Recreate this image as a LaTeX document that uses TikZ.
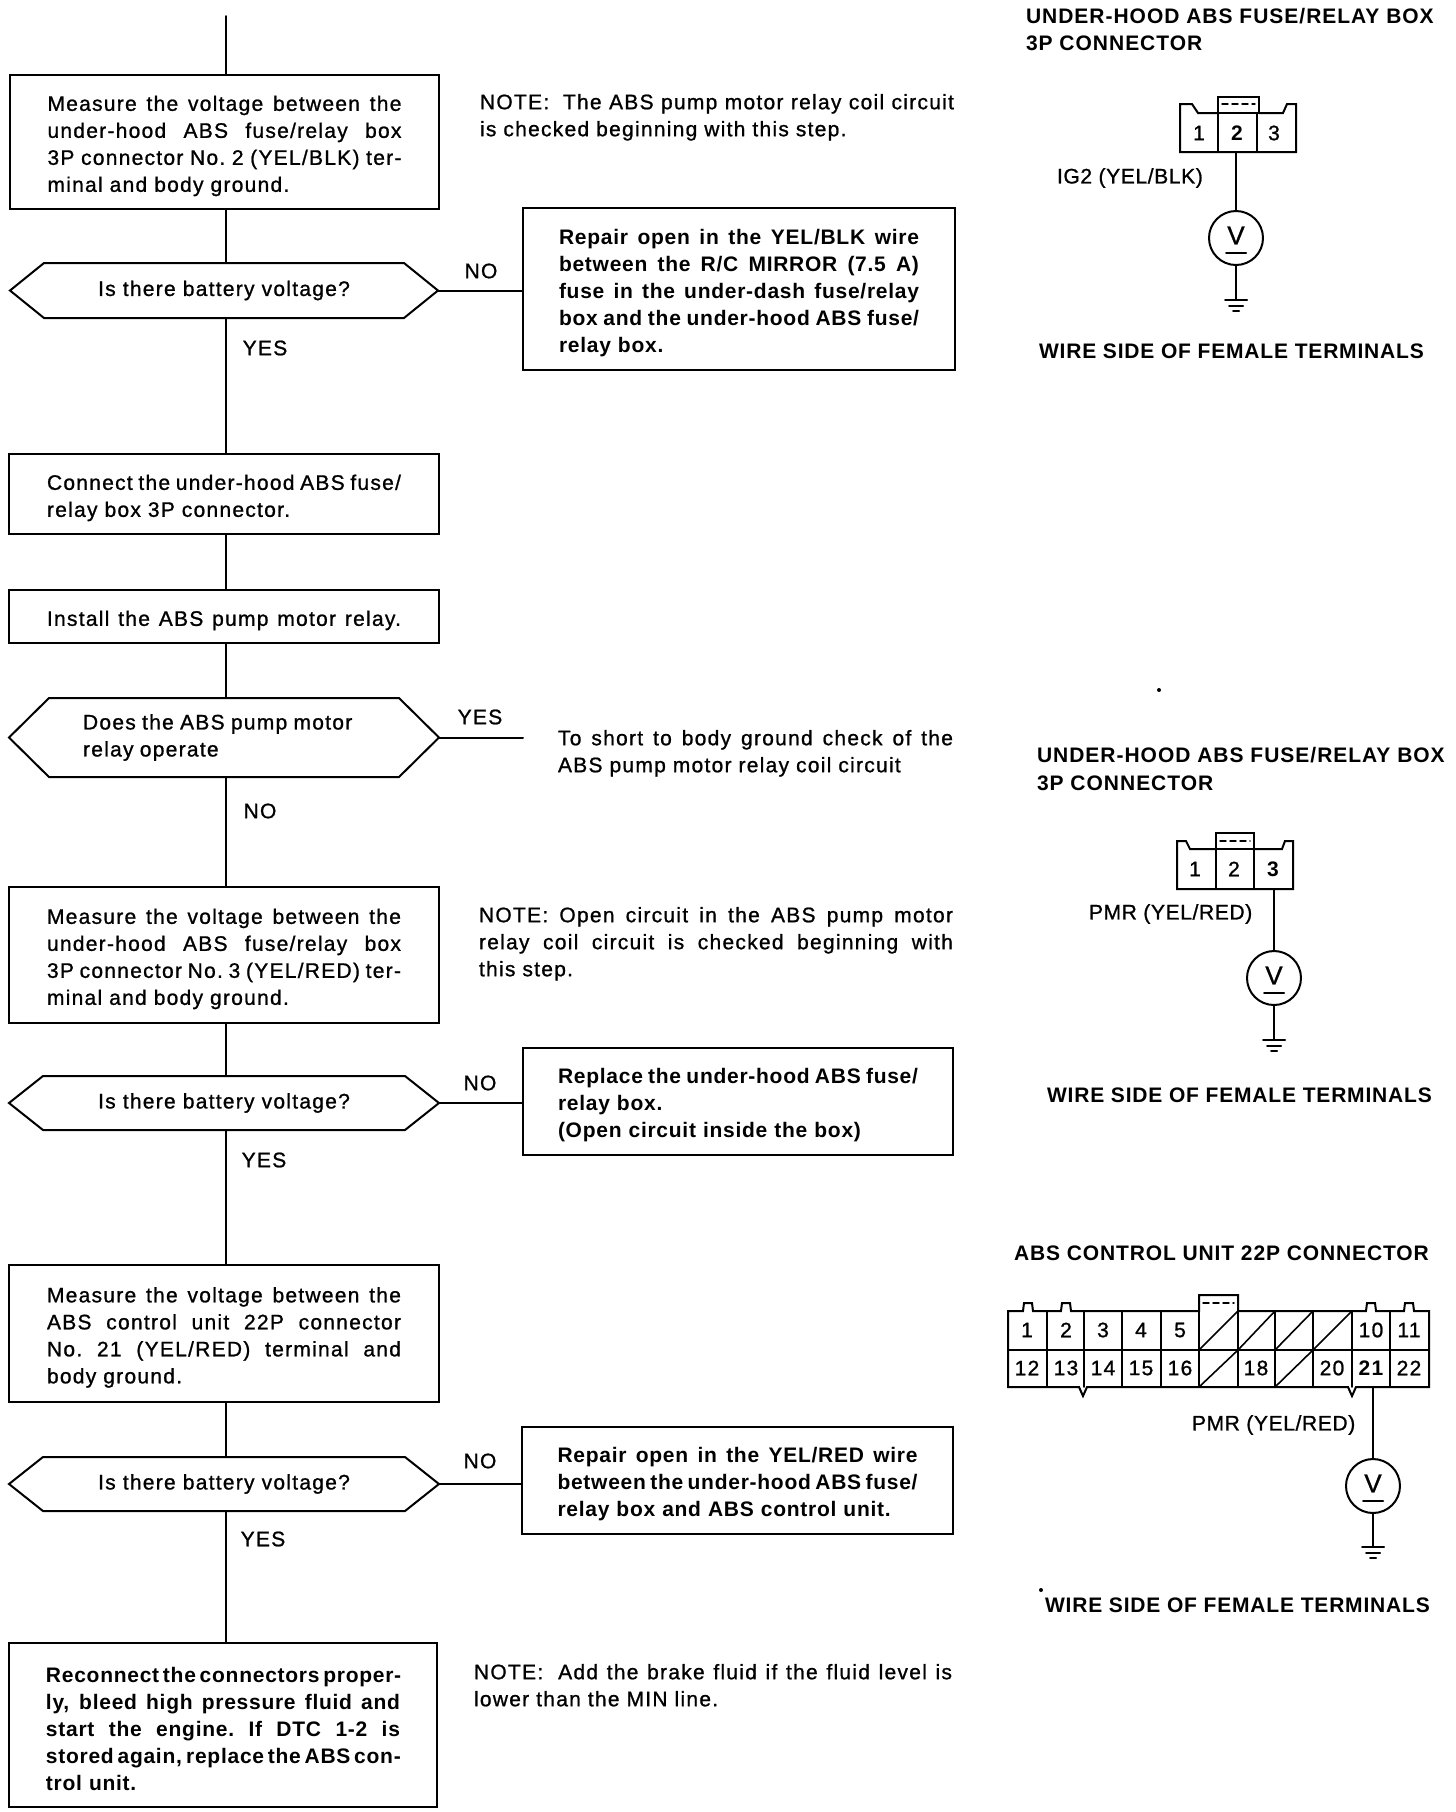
\documentclass[tikz,border=0pt]{standalone}
\usepackage{fontspec}
\setmainfont{Liberation Sans}[LetterSpace=6,UprightFeatures={FakeBold=1}]
\usetikzlibrary{calc}
\newcommand{\J}[1]{\makebox[\hsize][s]{\spaceskip=.28em plus 1fil minus .1em\xspaceskip=\spaceskip #1}}
\newcommand{\bodybold}{\fontsize{10.5}{13.5}\selectfont\bfseries\addfontfeature{LetterSpace=3.5}}
\tikzset{
  x=0.5pt,y=-0.5pt,
  wire/.style={line width=1pt,line cap=round},
  txt/.style={font=\fontsize{10.5}{13.5}\selectfont,inner sep=0pt,outer sep=0pt},
  pbox/.style 2 args={txt,draw,line width=1pt,anchor=north west,align=left,minimum width=#1*0.5pt,minimum height=#2*0.5pt,execute at begin node={\leavevmode\rule{0pt}{11.5pt}}},
  lbox/.style={text width=177pt},
  rbox/.style={text width=180pt,font=\bodybold},
  hexlabel/.style 2 args={txt,anchor=north west,align=left,minimum width=#1*0.5pt,minimum height=#2*0.5pt},
  yesno/.style={txt,anchor=center},
  note/.style={txt,anchor=north west,align=left},
  title/.style={txt,anchor=west,font=\fontsize{10.5}{13.5}\selectfont\bfseries\addfontfeature{LetterSpace=4.7}},
  sidetitle/.style={title,font=\fontsize{10.5}{13.5}\selectfont\bfseries\addfontfeature{LetterSpace=3.9}},
  wirelabel/.style={txt,anchor=west,font=\fontsize{10.5}{13.5}\selectfont\addfontfeature{LetterSpace=3}},
  pin/.style={txt,anchor=center,font=\fontsize{10.5}{13.5}\selectfont},
  boldpin/.style={txt,anchor=center,font=\fontsize{10.5}{13.5}\selectfont\bfseries},
  meter/.style={draw,circle,line width=1pt,minimum size=27pt,inner sep=0pt,font=\fontsize{13}{13}\selectfont},
}
\newcommand{\hexn}[7]{% name x y w h tip text
  \node[hexlabel={#4}{#5}] (#1) at (#2,#3) {#7};
  \draw[wire,line join=miter] (#1.west) -- ($(#1.north west)+(#6,0)$) -- ($(#1.north east)+(-#6,0)$) -- (#1.east) -- ($(#1.south east)+(-#6,0)$) -- ($(#1.south west)+(#6,0)$) -- cycle;
}
\newcommand{\gnd}[1]{%
  \draw[wire] ($(#1)+(-11,0)$) -- ($(#1)+(11,0)$);
  \draw[wire] ($(#1)+(-7,5.5)$) -- ($(#1)+(7,5.5)$);
  \draw[wire] ($(#1)+(-3,11)$) -- ($(#1)+(3,11)$);
}
\newcommand{\vmeter}[3]{%
  \node[meter] (#1) at (#2,#3) {\raisebox{2.5pt}{\addfontfeature{LetterSpace=0}V}};
  \draw[wire] ($(#1.center)+(-10,15)$) -- ($(#1.center)+(10,15)$);
}
\newcommand{\Q}{\raisebox{-2.5pt}{Is there battery voltage?}}
\begin{document}
\begin{tikzpicture}
\useasboundingbox (0,0) rectangle (1456,1812);
\coordinate (top) at (226,16);
% left column
\node[pbox={429}{134},lbox] (b1) at (10,75) {\J{Measure the voltage between the}\\\J{under-hood ABS fuse/relay box}\\\J{3P connector No. 2 (YEL/BLK) ter-}\\minal and body ground.};
\hexn{h1}{10}{263}{428}{55}{34}{\hfill\Q\hfill\null}
\node[pbox={432}{162},rbox] (r1) at (523,208) {\J{Repair open in the YEL/BLK wire}\\\J{between the R/C MIRROR (7.5 A)}\\\J{fuse in the under-dash fuse/relay}\\\J{box and the under-hood ABS fuse/}\\relay box.};
\node[pbox={430}{80},lbox] (b2) at (9,454) {\J{Connect the under-hood ABS fuse/}\\relay box 3P connector.};
\node[pbox={430}{53},lbox] (b3) at (9,590) {\J{Install the ABS pump motor relay.}};
\hexn{h2}{9}{698}{430}{79}{40}{\hspace*{9pt}\raisebox{-3pt}{\begin{minipage}{150pt}\spaceskip=.3em\relax Does the ABS pump motor\\relay operate\end{minipage}}\hfill\null}
\node[pbox={430}{136},lbox] (b4) at (9,887) {\J{Measure the voltage between the}\\\J{under-hood ABS fuse/relay box}\\\J{3P connector No. 3 (YEL/RED) ter-}\\minal and body ground.};
\hexn{h3}{9}{1076}{430}{54}{34}{\hfill\Q\hfill\null}
\node[pbox={430}{107},rbox] (r2) at (523,1048) {\J{Replace the under-hood ABS fuse/}\\relay box.\\(Open circuit inside the box)};
\node[pbox={430}{137},lbox] (b5) at (9,1265) {\J{Measure the voltage between the}\\\J{ABS control unit 22P connector}\\\J{No. 21 (YEL/RED) terminal and}\\body ground.};
\hexn{h4}{9}{1457}{430}{54}{34}{\hfill\Q\hfill\null}
\node[pbox={431}{107},rbox] (r3) at (522,1427) {\J{Repair open in the YEL/RED wire}\\\J{between the under-hood ABS fuse/}\\relay box and ABS control unit.};
\node[pbox={428}{164},lbox,font=\bodybold,execute at begin node={\leavevmode\rule{0pt}{8pt}}] (b6) at (9,1643) {\J{Reconnect the connectors proper-}\\\J{ly, bleed high pressure fluid and}\\\J{start the engine. If DTC 1-2 is}\\\J{stored again, replace the ABS con-}\\trol unit.};
\coordinate (y2) at (523,738);
% spine
\draw[wire] (top) -- (b1.north -| top);
\draw[wire] (b1.south -| top) -- (h1.north -| top);
\draw[wire] (h1.south -| top) -- (b2.north -| top);
\draw[wire] (b2.south -| top) -- (b3.north -| top);
\draw[wire] (b3.south -| top) -- (h2.north -| top);
\draw[wire] (h2.south -| top) -- (b4.north -| top);
\draw[wire] (b4.south -| top) -- (h3.north -| top);
\draw[wire] (h3.south -| top) -- (b5.north -| top);
\draw[wire] (b5.south -| top) -- (h4.north -| top);
\draw[wire] (h4.south -| top) -- (b6.north -| top);
% branches
\draw[wire] (h1.east) -- (r1.west |- h1.east);
\draw[wire] (h2.east) -- (y2 |- h2.east);
\draw[wire] (h3.east) -- (r2.west |- h3.east);
\draw[wire] (h4.east) -- (r3.west |- h4.east);
% yes/no labels
\node[yesno] (n1) at (481,271) {NO};
\node[yesno] (y1) at (265,348) {YES};
\node[yesno] (y3) at (480,717) {YES};
\node[yesno] (n2) at (260,811) {NO};
\node[yesno] (n3) at (480,1083) {NO};
\node[yesno] (y4) at (264,1160) {YES};
\node[yesno] (n4) at (480,1461) {NO};
\node[yesno] (y5) at (263,1539) {YES};
% notes
\node[note,text width=237pt] (note1) at (480,94) {\J{NOTE:\hspace{.3em} The ABS pump motor relay coil circuit}\\is checked beginning with this step.};
\node[note,text width=197.5pt] (tshort) at (558,730) {\J{To short to body ground check of the}\\ABS pump motor relay coil circuit};
\node[note,text width=237pt] (note2) at (479,907) {\J{NOTE: Open circuit in the ABS pump motor}\\\J{relay coil circuit is checked beginning with}\\this step.};
\node[note,text width=239pt] (note3) at (474,1664) {\J{NOTE:\hspace{.3em} Add the brake fluid if the fluid level is}\\lower than the MIN line.};
% connector 1
\node[title] (t1a) at (1026,16) {UNDER-HOOD ABS FUSE/RELAY BOX};
\node[title] (t1b) at (1026,43) {3P CONNECTOR};
\draw[wire] (1218,113) -- (1198,113) -- (1192,104) -- (1180,104) -- (1180,152) -- (1296,152) -- (1296,104) -- (1287,104) -- (1283,113) -- (1259,113);
\draw[wire] (1218,152) -- (1218,97) -- (1259,97) -- (1259,113) -- (1257,113) -- (1257,152);
\draw[wire] (1218,113) -- (1259,113);
\draw[wire,densely dashed,line width=.7pt] (1222,104) -- (1255,104);
\node[pin] (p11) at (1199,133) {1};
\node[boldpin] (p12) at (1237,133) {2};
\node[pin] (p13) at (1274,133) {3};
\node[wirelabel] (w1) at (1057,178) {IG2 (YEL/BLK)};
\coordinate (c1b) at (1236,152);
\vmeter{v1}{1236}{238}
\coordinate (g1) at (1236,300);
\draw[wire] (c1b) -- (v1);
\draw[wire] (v1) -- (g1);
\gnd{g1}
\node[sidetitle] (s1) at (1039,351) {WIRE SIDE OF FEMALE TERMINALS};
% speck
\fill (1159,690) circle (1pt);
% connector 2
\node[title] (t2a) at (1037,755) {UNDER-HOOD ABS FUSE/RELAY BOX};
\node[title] (t2b) at (1037,783) {3P CONNECTOR};
\draw[wire] (1216,849) -- (1190,849) -- (1186,841) -- (1177,841) -- (1177,889) -- (1293,889) -- (1293,841) -- (1285,841) -- (1282,849) -- (1254,849);
\draw[wire] (1216,889) -- (1216,833) -- (1254,833) -- (1254,889);
\draw[wire] (1216,849) -- (1254,849);
\draw[wire,densely dashed,line width=.7pt] (1220,841) -- (1250,841);
\node[pin] (p21) at (1195,869) {1};
\node[pin] (p22) at (1234,869) {2};
\node[boldpin] (p23) at (1273,869) {3};
\node[wirelabel] (w2) at (1089,914) {PMR (YEL/RED)};
\coordinate (c2b) at (1274,889);
\vmeter{v2}{1274}{978}
\coordinate (g2) at (1274,1040);
\draw[wire] (c2b) -- (v2);
\draw[wire] (v2) -- (g2);
\gnd{g2}
\node[sidetitle] (s2) at (1047,1095) {WIRE SIDE OF FEMALE TERMINALS};
% connector 3
\node[title,font=\fontsize{10.5}{13.5}\selectfont\bfseries\addfontfeature{LetterSpace=4.2}] (t3) at (1014,1253) {ABS CONTROL UNIT 22P CONNECTOR};
\draw[wire] (1008,1311) -- (1023,1311) -- (1024,1303) -- (1032,1303) -- (1033,1311) -- (1061,1311) -- (1062,1303) -- (1070,1303) -- (1071,1311) -- (1199,1311) -- (1199,1295) -- (1238,1295) -- (1238,1311) -- (1366,1311) -- (1367,1303) -- (1375,1303) -- (1376,1311) -- (1404,1311) -- (1405,1303) -- (1413,1303) -- (1414,1311) -- (1429,1311) -- (1429,1387) -- (1356,1387) -- (1352,1396) -- (1348,1387) -- (1087,1387) -- (1083,1396) -- (1079,1387) -- (1008,1387) -- cycle;
\draw[wire] (1008,1350) -- (1429,1350);
\foreach \xx in {1047,1084,1122,1161,1199,1238,1275,1313,1352,1390}
  \draw[wire,line width=.8pt] (\xx,1311) -- (\xx,1387);
\draw[wire,densely dashed,line width=.7pt] (1203,1303) -- (1234,1303);
\draw[wire,line width=.8pt] (1199,1350) -- (1238,1311) (1238,1350) -- (1275,1311) (1275,1350) -- (1313,1311) (1313,1350) -- (1352,1311);
\draw[wire,line width=.8pt] (1199,1387) -- (1238,1350) (1275,1387) -- (1313,1350);
\foreach \nn/\xx in {1/1027,2/1066,3/1103,4/1141,5/1180,10/1371,11/1409}
  \node[pin] (a\nn) at (\xx,1330) {\nn};
\foreach \nn/\xx in {12/1027,13/1066,14/1103,15/1141,16/1180,18/1256,20/1332,22/1409}
  \node[pin] (a\nn) at (\xx,1368) {\nn};
\node[boldpin] (a21) at (1371,1368) {21};
\node[wirelabel] (w3) at (1192,1425) {PMR (YEL/RED)};
\coordinate (c3b) at (1373,1387);
\vmeter{v3}{1373}{1486}
\coordinate (g3) at (1373,1547);
\draw[wire] (c3b) -- (v3);
\draw[wire] (v3) -- (g3);
\gnd{g3}
\fill (1041,1590) circle (1pt);
\node[sidetitle] (s3) at (1045,1605) {WIRE SIDE OF FEMALE TERMINALS};
\end{tikzpicture}
\end{document}
